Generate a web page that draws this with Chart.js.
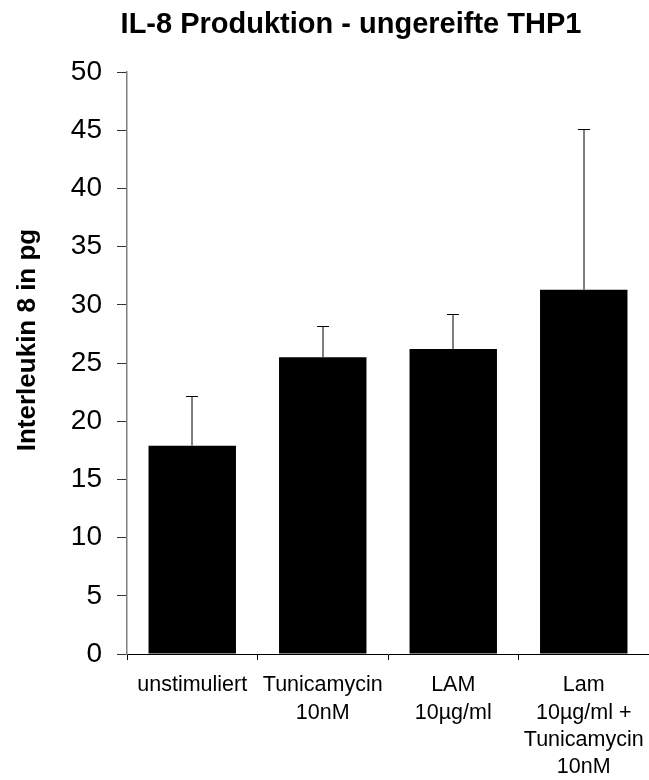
<!doctype html>
<html lang="de">
<head>
  <meta charset="utf-8">
  <title>IL-8 Produktion - ungereifte THP1</title>
  <script src="https://cdn.jsdelivr.net/npm/chart.js"></script>
  <style>
    html, body { margin: 0; padding: 0; background: #fff; }
    #wrap { width: 649px; height: 780px; }
  </style>
</head>
<body>
  <div id="wrap"><canvas id="il8Chart"></canvas></div>

  <script>
    // Werte
    const categories = [
      'unstimuliert',
      ['Tunicamycin', '10nM'],
      ['LAM', '10µg/ml'],
      ['Lam', '10µg/ml +', 'Tunicamycin', '10nM']
    ];
    const means = [17.9, 25.5, 26.2, 31.3];
    const errUp = [4.3, 2.65, 3.05, 13.8];
    const yTicks = { min: 0, max: 50, step: 5 };

    const font = "'Liberation Sans', Arial, sans-serif";
    const axisGrey = '#808080';

    // nur obere Fehlerbalken, mit Querstrich
    const errorBars = {
      id: 'errorBars',
      afterDatasetsDraw(chart) {
        const ctx = chart.ctx;
        const y = chart.scales.y;
        const meta = chart.getDatasetMeta(0);
        ctx.save();
        ctx.strokeStyle = '#000';
        ctx.lineWidth = 1;
        meta.data.forEach((bar, i) => {
          const x = Math.round(bar.x);
          const top = Math.round(y.getPixelForValue(means[i] + errUp[i])) + 0.5;
          ctx.beginPath();
          ctx.moveTo(x, bar.y);
          ctx.lineTo(x, top);
          ctx.moveTo(x - 6, top);
          ctx.lineTo(x + 6, top);
          ctx.stroke();
        });
        ctx.restore();
      }
    };

    // Titel und Achsentitel
    const texts = {
      id: 'texts',
      afterDraw(chart) {
        const ctx = chart.ctx;
        ctx.save();
        ctx.fillStyle = '#000';
        ctx.textBaseline = 'alphabetic';
        ctx.textAlign = 'center';
        ctx.font = 'bold 29px ' + font;
        ctx.fillText('IL-8 Produktion - ungereifte THP1', 351, 33);
        ctx.translate(35, 340);
        ctx.rotate(-Math.PI / 2);
        ctx.font = 'bold 26px ' + font;
        ctx.fillText('Interleukin 8 in pg', 0, 0);
        ctx.restore();
      }
    };

    new Chart(document.getElementById('il8Chart'), {
      type: 'bar',
      data: {
        labels: categories,
        datasets: [{
          data: means,
          backgroundColor: '#000',
          borderWidth: 0,
          barPercentage: 0.67,
          categoryPercentage: 1.0
        }]
      },
      options: {
        responsive: true,
        maintainAspectRatio: false,
        animation: false,
        layout: { padding: { top: 72, left: 0, right: 0, bottom: 0 } },
        plugins: {
          legend: { display: false },
          tooltip: { enabled: false },
          title: { display: false }
        },
        scales: {
          x: {
            afterFit(scale) {
              scale.height = 126;
              scale.paddingLeft = 0;
              scale.paddingRight = 0;
            },
            grid: {
              display: true,
              drawOnChartArea: false,
              offset: true,
              tickLength: 6,
              color: '#000'
            },
            border: { color: '#000', width: 1 },
            ticks: {
              autoSkip: false,
              maxRotation: 0,
              color: '#000',
              padding: 12,
              font: { family: font, size: 21.5, lineHeight: 1.26 }
            }
          },
          y: {
            min: yTicks.min,
            max: yTicks.max,
            afterFit(scale) { scale.width = 127; },
            grid: {
              drawOnChartArea: false,
              tickLength: 10,
              color: '#333'
            },
            border: { color: axisGrey, width: 1.5 },
            ticks: {
              stepSize: yTicks.step,
              color: '#000',
              padding: 15,
              font: { family: font, size: 28 }
            }
          }
        }
      },
      plugins: [errorBars, texts]
    });
  </script>
</body>
</html>
